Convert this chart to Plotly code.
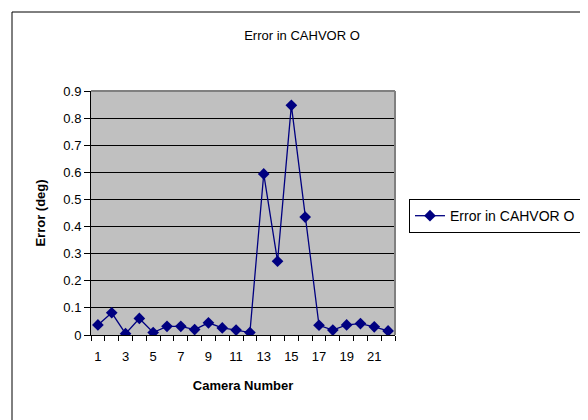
import plotly.graph_objects as go

cameras = list(range(1, 23))
errors = [0.037, 0.082, 0.005, 0.061, 0.009, 0.032, 0.032, 0.020, 0.045, 0.026, 0.018,
          0.009, 0.594, 0.272, 0.847, 0.435, 0.036, 0.018, 0.037, 0.042, 0.030, 0.015]
x_tick_vals = list(range(1, 23, 2))
y_tick_vals = [0, 0.1, 0.2, 0.3, 0.4, 0.5, 0.6, 0.7, 0.8, 0.9]
y_tick_text = ["0", "0.1", "0.2", "0.3", "0.4", "0.5", "0.6", "0.7", "0.8", "0.9"]

FONT = "Arial, Liberation Sans, sans-serif"
NAVY = "#000080"

fig = go.Figure()
fig.add_trace(
    go.Scatter(
        x=cameras,
        y=errors,
        mode="lines+markers",
        name="Error in CAHVOR O",
        line={"color": NAVY, "width": 1.3},
        marker={"symbol": "diamond", "size": 9, "color": NAVY},
    )
)

fig.update_layout(
    width=588,
    height=420,
    margin={"l": 83, "r": 201, "t": 83, "b": 93},
    paper_bgcolor="white",
    plot_bgcolor="#C0C0C0",
    font={"family": FONT, "size": 13, "color": "black"},
    title={
        "text": "Error in CAHVOR O",
        "x": 0.5,
        "xanchor": "center",
        "y": 0.935,
        "yanchor": "middle",
        "font": {"size": 13},
    },
    showlegend=True,
    legend={
        "x": 1.046,
        "y": 0.557,
        "xanchor": "left",
        "yanchor": "top",
        "bordercolor": "black",
        "borderwidth": 1,
        "bgcolor": "white",
        "font": {"size": 14},
        "itemwidth": 30,
    },
)

fig.update_xaxes(
    range=[0.5, 22.5],
    tickvals=x_tick_vals,
    ticks="outside",
    ticklen=9,
    tickcolor="rgba(0,0,0,0)",
    showgrid=False,
    zeroline=False,
    showline=True,
    linecolor="black",
    linewidth=1,
    minor={
        "tickvals": [v + 0.5 for v in range(0, 23)],
        "ticks": "outside",
        "ticklen": 5,
        "tickcolor": "black",
        "showgrid": False,
    },
    title={"text": "<b>Camera Number</b>", "font": {"size": 13}, "standoff": 18},
)
fig.update_yaxes(
    range=[0, 0.9],
    tickvals=y_tick_vals,
    ticktext=y_tick_text,
    ticks="outside",
    ticklen=6,
    tickcolor="black",
    showgrid=True,
    gridcolor="black",
    gridwidth=1,
    zeroline=False,
    showline=True,
    linecolor="black",
    linewidth=1,
    title={"text": "<b>Error (deg)</b>", "font": {"size": 13}, "standoff": 14},
)

# plot-area border on top and right, grey like the original
fig.add_shape(type="line", xref="paper", yref="paper", x0=0, x1=1, y0=1, y1=1,
              line={"color": "#808080", "width": 2})
fig.add_shape(type="line", xref="paper", yref="paper", x0=1, x1=1, y0=0, y1=1,
              line={"color": "#808080", "width": 2})

# outer chart frame
fig.add_shape(type="rect", xref="paper", yref="paper",
              x0=-79 / 304, x1=502 / 304, y0=-100 / 244, y1=323 / 244,
              line={"color": "black", "width": 1}, layer="below")

fig.write_html("out.html")
